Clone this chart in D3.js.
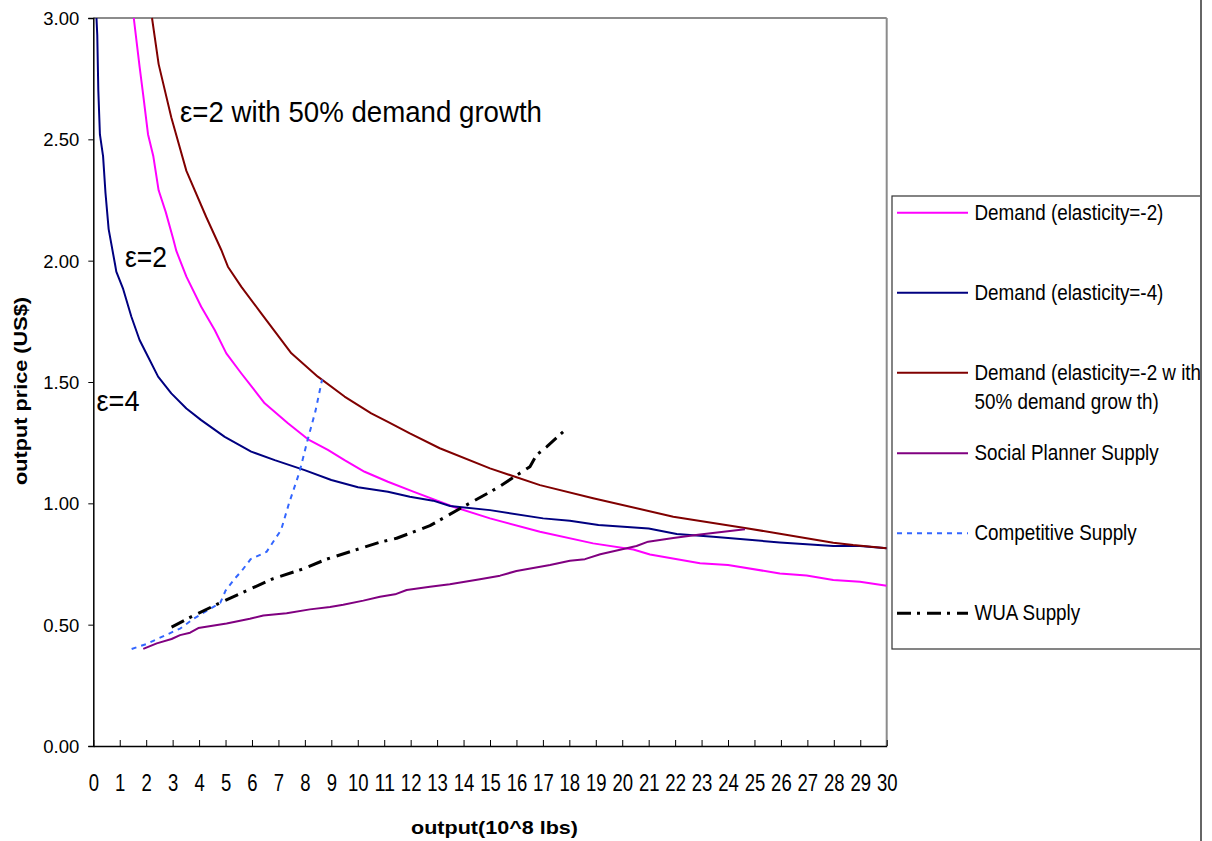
<!DOCTYPE html>
<html>
<head>
<meta charset="utf-8">
<script src="https://cdn.jsdelivr.net/npm/d3@7"></script>
<style>
  html, body { margin: 0; padding: 0; background: #fff; }
  svg { display: block; }
</style>
</head>
<body>
<svg id="chart" width="1212" height="841"></svg>
<script>
// ---- data ----
const xTicks = d3.range(0, 31, 1);
const yTicks = [0, 0.5, 1.0, 1.5, 2.0, 2.5, 3.0];

const demandE2 = [[1.53,3.0],[1.75,2.80],[1.89,2.68],[2.07,2.52],[2.27,2.43],[2.47,2.29],[2.74,2.20],[3.02,2.09],[3.14,2.04],[3.52,1.934],[4.08,1.81],[4.59,1.714],[5.03,1.618],[5.6,1.535],[6.48,1.412],[7.36,1.33],[8.12,1.264],[8.87,1.22],[9.5,1.178],[10.26,1.13],[11.14,1.089],[12.1,1.048],[13.61,0.986],[15.0,0.938],[16.89,0.883],[18.9,0.835],[20.42,0.81],[21.05,0.789],[22.94,0.753],[24.0,0.746],[25.96,0.711],[26.97,0.703],[27.98,0.684],[28.99,0.677],[30,0.66]];

const demandE4 = [[0.12,3.0],[0.15,2.93],[0.19,2.70],[0.25,2.52],[0.37,2.43],[0.46,2.28],[0.58,2.13],[0.68,2.07],[0.83,1.98],[0.87,1.955],[1.12,1.886],[1.44,1.769],[1.75,1.673],[2.07,1.604],[2.45,1.522],[2.95,1.453],[3.52,1.391],[4.08,1.343],[4.97,1.274],[5.97,1.213],[6.86,1.178],[7.99,1.137],[9.0,1.096],[10.01,1.066],[11.14,1.048],[11.97,1.027],[12.85,1.011],[13.49,0.989],[15.0,0.972],[17.01,0.938],[18.02,0.928],[19.1,0.911],[21.0,0.896],[22.06,0.874],[23.44,0.862],[25.96,0.839],[27.98,0.824],[28.99,0.824],[30,0.815]];

const demandE2Growth = [[2.22,3.0],[2.47,2.81],[2.95,2.59],[3.52,2.37],[4.27,2.18],[4.84,2.044],[5.09,1.975],[5.60,1.892],[6.35,1.783],[7.49,1.618],[8.49,1.522],[9.5,1.44],[10.51,1.371],[11.14,1.336],[11.97,1.288],[13.1,1.227],[15.0,1.144],[16.89,1.075],[18.9,1.021],[21.93,0.945],[24.7,0.897],[25.96,0.875],[27.98,0.838],[28.73,0.828],[30,0.815]];

const socialPlanner = [[1.89,0.40],[2.40,0.423],[2.96,0.441],[3.28,0.457],[3.66,0.467],[3.97,0.486],[5.04,0.505],[5.92,0.524],[6.43,0.538],[7.31,0.547],[8.19,0.563],[8.95,0.573],[9.45,0.582],[10.21,0.599],[10.84,0.615],[11.41,0.625],[11.85,0.643],[12.73,0.656],[13.48,0.667],[14.62,0.687],[15.38,0.702],[16.0,0.721],[17.27,0.746],[18.02,0.763],[18.59,0.770],[19.17,0.790],[20.54,0.824],[20.98,0.842],[21.93,0.857],[22.94,0.872],[24.64,0.893]];

const competitive = [[1.45,0.40],[2.0,0.42],[2.4,0.44],[3.3,0.485],[3.8,0.525],[4.8,0.59],[5.0,0.64],[5.35,0.69],[5.6,0.72],[5.95,0.77],[6.55,0.80],[7.1,0.89],[7.4,1.0],[7.8,1.13],[8.1,1.26],[8.4,1.38],[8.65,1.51]];

const wua = [[2.96,0.49],[3.66,0.53],[4.79,0.59],[5.92,0.646],[6.81,0.69],[7.94,0.73],[8.82,0.77],[10.84,0.84],[11.47,0.856],[12.73,0.908],[13.99,0.986],[15.25,1.062],[16.51,1.151],[16.76,1.199],[17.14,1.233],[17.77,1.295]];

const seriesNames = ["Demand (elasticity=-2)", "Demand (elasticity=-4)", ["Demand (elasticity=-2 w ith", "50% demand grow th)"], "Social Planner Supply", "Competitive Supply", "WUA Supply"];
const annotations = [
  {text: "\u03b5=2 with 50% demand growth", x: 180, y: 122, w: 362},
  {text: "\u03b5=2", x: 125, y: 267, w: 42},
  {text: "\u03b5=4", x: 96.5, y: 411, w: 43}
];

// ---- layout ----
const svg = d3.select("#chart");
const L = 93.3, R = 886.7, T = 18, B = 746;
const x = d3.scaleLinear().domain([0, 30]).range([L, R]);
const y = d3.scaleLinear().domain([0, 3]).range([B, T]);

const styles = [
  {data: demandE2, color: "#ff00ff", width: 2, dash: null},
  {data: demandE4, color: "#000080", width: 2, dash: null},
  {data: demandE2Growth, color: "#800000", width: 2, dash: null},
  {data: socialPlanner, color: "#800080", width: 2, dash: null},
  {data: competitive, color: "#3366ff", width: 2, dash: "5,5"},
  {data: wua, color: "#000000", width: 3, dash: "14,6,3,7"}
];

svg.append("defs").append("clipPath").attr("id", "plotclip")
  .append("rect").attr("x", L).attr("y", T - 1).attr("width", R - L).attr("height", B - T + 1);
svg.select("defs").append("clipPath").attr("id", "legclip")
  .append("rect").attr("x", 880).attr("y", 180).attr("width", 320).attr("height", 480);

// plot frame (top/right gray)
svg.append("line").attr("x1", L).attr("x2", R).attr("y1", T).attr("y2", T)
  .attr("stroke", "#8c8c8c").attr("stroke-width", 2);
svg.append("line").attr("x1", R).attr("x2", R).attr("y1", T).attr("y2", B)
  .attr("stroke", "#8c8c8c").attr("stroke-width", 2);

// axes
const yAxis = d3.axisLeft(y).tickValues(yTicks).tickSize(5).tickPadding(9)
  .tickFormat(d3.format(".2f"));
const gy = svg.append("g").attr("transform", `translate(${L},0)`).call(yAxis);
gy.select(".domain").attr("stroke", "#000").attr("stroke-width", 1.5);
gy.selectAll(".tick line").attr("stroke", "#000");
gy.selectAll(".tick text").attr("font-family", "'Liberation Sans', Arial, sans-serif")
  .attr("font-size", 18.5).attr("fill", "#000").attr("dy", "0.35em");

const xAxis = d3.axisBottom(x).tickValues(xTicks).tickSizeInner(-6).tickSizeOuter(0)
  .tickPadding(0).tickFormat(d3.format("d"));
const gx = svg.append("g").attr("transform", `translate(0,${B})`).call(xAxis);
gx.select(".domain").attr("stroke", "#000").attr("stroke-width", 1.5);
gx.selectAll(".tick line").attr("stroke", "#000");
gx.selectAll(".tick text")
  .attr("font-family", "'Liberation Sans Narrow', 'Arial Narrow', 'Liberation Sans', sans-serif")
  .attr("font-size", 24).attr("fill", "#000")
  .attr("y", 44.5).attr("dy", 0)
  .attr("textLength", d => String(d).length * 10.3)
  .attr("lengthAdjust", "spacingAndGlyphs");

// axis titles
svg.append("text").attr("x", 494.5).attr("y", 834).attr("text-anchor", "middle")
  .attr("font-family", "'Liberation Sans', Arial, sans-serif").attr("font-weight", "bold")
  .attr("font-size", 19).attr("textLength", 167).attr("lengthAdjust", "spacingAndGlyphs")
  .text("output(10^8 lbs)");
svg.append("text").attr("transform", "translate(27,391) rotate(-90)").attr("text-anchor", "middle")
  .attr("font-family", "'Liberation Sans', Arial, sans-serif").attr("font-weight", "bold")
  .attr("font-size", 19).attr("textLength", 188).attr("lengthAdjust", "spacingAndGlyphs")
  .text("output price (US$)");

// series
const line = d3.line().x(d => x(d[0])).y(d => y(d[1]));
const gLines = svg.append("g").attr("clip-path", "url(#plotclip)");
styles.forEach(s => {
  gLines.append("path").datum(s.data).attr("d", line)
    .attr("fill", "none").attr("stroke", s.color).attr("stroke-width", s.width)
    .attr("stroke-dasharray", s.dash).attr("stroke-linejoin", "round");
});

// annotations
annotations.forEach(a => {
  svg.append("text").attr("x", a.x).attr("y", a.y)
    .attr("font-family", "'Liberation Sans Narrow', 'Arial Narrow', 'Liberation Sans', sans-serif")
    .attr("font-size", 29).attr("fill", "#000")
    .attr("textLength", a.w).attr("lengthAdjust", "spacingAndGlyphs")
    .text(a.text);
});

// legend
const leg = svg.append("g").attr("clip-path", "url(#legclip)");
leg.append("rect").attr("x", 892).attr("y", 196).attr("width", 320).attr("height", 453)
  .attr("fill", "#fff").attr("stroke", "#333").attr("stroke-width", 1.2);
const rowY = [212.7, 292.7, 372.7, 453.3, 533.3, 613.3];
const legFont = "'Liberation Sans Narrow', 'Arial Narrow', 'Liberation Sans', sans-serif";
// measure scale for legend text so first entry spans 189px
const probe = svg.append("text").attr("font-family", legFont).attr("font-size", 22).text(seriesNames[0]);
const k = 189 / probe.node().getComputedTextLength();
probe.remove();
styles.forEach((s, i) => {
  leg.append("line").attr("x1", 897).attr("x2", 968).attr("y1", rowY[i]).attr("y2", rowY[i])
    .attr("stroke", s.color).attr("stroke-width", s.width).attr("stroke-dasharray", s.dash);
  const names = Array.isArray(seriesNames[i]) ? seriesNames[i] : [seriesNames[i]];
  names.forEach((nm, j) => {
    leg.append("text").attr("transform", `translate(974.5,${rowY[i] + 6.8 + j * 29}) scale(${k},1)`)
      .attr("font-family", legFont).attr("font-size", 22).attr("fill", "#000").text(nm);
  });
});

// outer chart border (right edge)
svg.append("line").attr("x1", 1201).attr("x2", 1201).attr("y1", 0).attr("y2", 841)
  .attr("stroke", "#333").attr("stroke-width", 1.5);
</script>
</body>
</html>
